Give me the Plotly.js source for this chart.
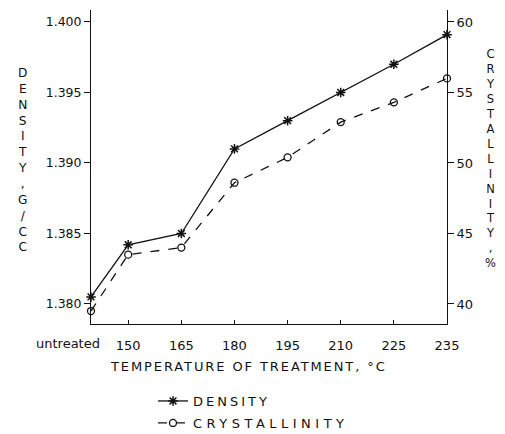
<!DOCTYPE html>
<html>
<head>
<meta charset="utf-8">
<script src="https://cdn.plot.ly/plotly-3.0.1.min.js"></script>
<style>
html,body{margin:0;padding:0;background:#fff;}
#chart{width:505px;height:434px;}
text.legendtext, text[data-unformatted="DENSITY"]{letter-spacing:3px !important;}
text[data-unformatted="CRYSTALLINITY"]{letter-spacing:4.5px !important;}
text[data-unformatted^="TEMPERATURE"]{letter-spacing:1.9px;}
</style>
</head>
<body>
<div id="chart"></div>
<script>
const categories = ["untreated", "150", "165", "180", "195", "210", "225", "235"];
const density = [1.3805, 1.3842, 1.3850, 1.3910, 1.3930, 1.3950, 1.3970, 1.3991];
const crystallinity = [39.5, 43.5, 44.0, 48.6, 50.4, 52.9, 54.3, 56.0];
const densityTicks = [1.380, 1.385, 1.390, 1.395, 1.400];
const densityTickText = ["1.380", "1.385", "1.390", "1.395", "1.400"];
const crystTicks = [40, 45, 50, 55, 60];
const seriesNames = ["DENSITY", "CRYSTALLINITY"];
const xTitle = "TEMPERATURE OF TREATMENT, °C";
const yTitle = "DENSITY,G/CC";
const y2Title = "CRYSTALLINITY,%";

// horizontal placement: first category sits closer to the second one
const xPos = categories.map((c, i) => (i === 0 ? 0.3 : i));

const font = "DejaVu Sans, sans-serif";
const ink = "#111";
const M = {l: 91, r: 58, t: 10, b: 110, autoexpand: false};
const pw = 505 - M.l - M.r, ph = 434 - M.t - M.b;
const px2x = px => (px - M.l) / pw;
const py2y = py => (434 - M.b - py) / ph;

const traces = [
  {
    x: xPos, y: density, name: seriesNames[0], yaxis: "y", legend: "legend",
    mode: "lines+markers", type: "scatter",
    line: {color: ink, width: 1.3},
    marker: {symbol: "asterisk-open", size: 8, color: ink, line: {color: ink, width: 1.5}},
    cliponaxis: false
  },
  {
    x: xPos, y: crystallinity, name: seriesNames[1], yaxis: "y2", legend: "legend2",
    mode: "lines+markers", type: "scatter",
    line: {color: ink, width: 1.3, dash: "dash"},
    marker: {symbol: "circle-open", size: 7, color: ink, line: {color: ink, width: 1.3}},
    cliponaxis: false
  }
];

const stack = s => s.split("").join("<br>");
const legFont = {family: font, size: 13, color: ink};

const layout = {
  width: 505, height: 434,
  margin: M,
  paper_bgcolor: "#fff", plot_bgcolor: "#fff",
  font: {family: font, size: 12, color: ink},
  showlegend: true,
  legend: {x: px2x(153), y: py2y(386), xanchor: "left", yanchor: "top",
           font: legFont, bgcolor: "rgba(0,0,0,0)", borderwidth: 0},
  legend2: {x: px2x(153), y: py2y(408), xanchor: "left", yanchor: "top",
            font: legFont, bgcolor: "rgba(0,0,0,0)", borderwidth: 0},
  xaxis: {
    range: [0.3, 7], tickvals: xPos.slice(1), ticktext: categories.slice(1),
    showgrid: false, zeroline: false, showline: true, linecolor: ink, linewidth: 1,
    ticks: "inside", ticklen: 4, tickcolor: ink, ticklabelstandoff: 9,
    tickfont: {family: font, size: 13, color: ink}
  },
  yaxis: {
    range: [1.37858, 1.40085], tickvals: densityTicks, ticktext: densityTickText,
    showgrid: false, zeroline: false, showline: true, linecolor: ink, linewidth: 1,
    ticks: "outside", ticklen: 6, tickcolor: ink,
    tickfont: {family: font, size: 12.5, color: ink}
  },
  yaxis2: {
    range: [38.58, 60.85], tickvals: crystTicks, overlaying: "y", side: "right",
    showgrid: false, zeroline: false, showline: true, linecolor: ink, linewidth: 1,
    ticks: "outside", ticklen: 6, tickcolor: ink,
    tickfont: {family: font, size: 13, color: ink}
  },
  annotations: [
    {x: xPos[0], y: py2y(343), xref: "x", yref: "paper", text: categories[0],
     xanchor: "right", yanchor: "middle", xshift: 11, showarrow: false,
     font: {family: font, size: 13, color: ink}},
    {x: px2x(248), y: py2y(366), xref: "paper", yref: "paper", text: xTitle,
     xanchor: "center", yanchor: "middle", showarrow: false,
     font: {family: font, size: 13, color: ink}},
    {x: px2x(22), y: py2y(160), xref: "paper", yref: "paper", text: stack(yTitle),
     xanchor: "center", yanchor: "middle", showarrow: false,
     font: {family: font, size: 12.2, color: ink}},
    {x: px2x(490), y: py2y(158), xref: "paper", yref: "paper", text: stack(y2Title),
     xanchor: "center", yanchor: "middle", showarrow: false,
     font: {family: font, size: 11.5, color: ink}}
  ]
};

Plotly.newPlot("chart", traces, layout, {displayModeBar: false, staticPlot: true});
</script>
</body>
</html>
